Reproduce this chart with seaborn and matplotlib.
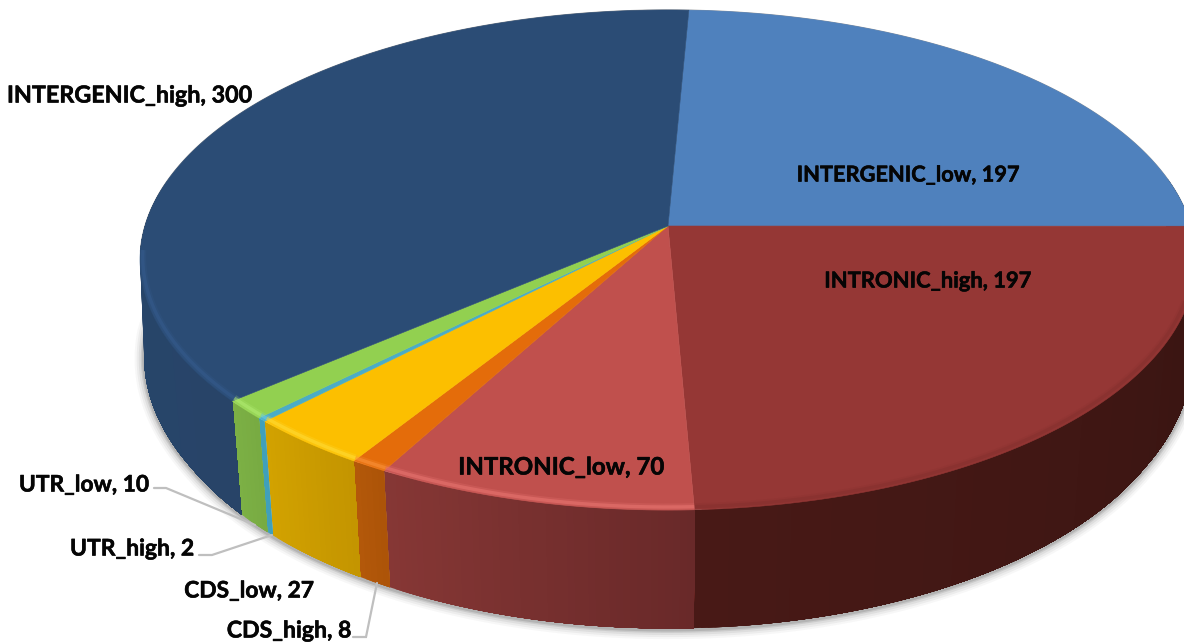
import numpy as np
import matplotlib
matplotlib.use("Agg")
import matplotlib.pyplot as plt
import matplotlib.patheffects as pe
import seaborn as sns

categories = ["INTERGENIC_low", "INTRONIC_high", "INTRONIC_low", "CDS_high",
              "CDS_low", "UTR_high", "UTR_low", "INTERGENIC_high"]
values = [197, 197, 70, 8, 27, 2, 10, 300]

top_colors = ["#4F81BD", "#953735", "#C0504D", "#E46C0A",
              "#FCBF00", "#4BACC6", "#92D050", "#2B4C75"]
rim_colors = ["#4F81BD", "#7A2A28", "#F07C78", "#FF9A45",
              "#FFE040", "#6FD0E8", "#B5F078", "#3A659A"]
rim_strength = [0.0, 0.6, 1.0, 1.0, 1.0, 1.0, 1.0, 0.7]
side_left = ["#2F4D72", "#481916", "#863735", "#B3580A",
             "#D2A200", "#40A0BA", "#7CB045", "#26466B"]
side_right = ["#2F4D72", "#371411", "#692929", "#AD5408",
              "#C49500", "#40A0BA", "#78AB42", "#284468"]

label_pos = [(908, 175), (928, 281), (561, 467), (289, 631),
             (249, 591), (132, 549), (84, 485), (130, 96)]
label_size = [15.7, 15.8, 17.3, 16.6, 16.4, 16.5, 16.4, 16.8]

leaders = {"UTR_low": ([154, 166, 255], [488, 488, 525]),
           "UTR_high": ([199, 212, 272], [555, 555, 535]),
           "CDS_high": ([353, 366, 377], [637, 637, 583])}

WIDTH, HEIGHT = 1184, 643
TILT = 0.136


def top_face(theta):
    u, v = np.cos(np.radians(theta)), np.sin(np.radians(theta))
    w = 1 + TILT * v
    return 668 + 523 * u / w, 226 - 245.4 * v / w


def base_face(theta):
    # The base narrows towards the viewer, so the wall edges lean inward.
    u, v = np.cos(np.radians(theta)), np.sin(np.radians(theta))
    w = 1 + TILT * v
    half_width = 521 - 9 * np.clip(-v / 0.5, 0, 1)
    return 668 + half_width * u / w, 331 - 257 * v / w


sns.set_theme(style="white")
plt.rcParams["font.family"] = ["Lato", "DejaVu Sans"]

fig = plt.figure(figsize=(WIDTH / 100, HEIGHT / 100), dpi=100, facecolor="white")
ax = fig.add_axes([0, 0, 1, 1])

# The pie supplies each slice's angular extent; the slices are then redrawn
# under a tilted projection with a visible side wall.
wedges, _ = ax.pie(values, startangle=87.4, counterclock=False)
spans = [(w.theta1, w.theta2) for w in wedges]
for w in wedges:
    w.remove()
ax.set_aspect("auto")
ax.set_xlim(0, WIDTH)
ax.set_ylim(HEIGHT, 0)
ax.axis("off")

# Soft drop shadow around the base
ring = np.linspace(-195, 15, 300)
bx, by = base_face(ring)
for lw, alpha in zip([14, 11, 8, 5, 3], [0.04, 0.06, 0.08, 0.12, 0.16]):
    ax.plot(bx, by + 1, color="#404040", lw=lw, alpha=alpha, zorder=1,
            solid_capstyle="round")

# Side wall: each step repaints from its angle to the slice end, which keeps
# the gradient free of seams.
for (t1, t2), cl, cr in zip(spans, side_left, side_right):
    th = np.linspace(t1, t2, max(int((t2 - t1) * 1.5), 2) + 1)
    th = th[np.sin(np.radians(th)) < 0.2]
    if len(th) < 2:
        continue
    shades = sns.blend_palette([cl, cr], len(th) - 1)
    for i in range(len(th) - 1):
        tx, ty = top_face(th[i:])
        bx, by = base_face(th[i:])
        ax.fill(np.r_[tx, bx[::-1]], np.r_[ty, by[::-1]],
                color=shades[i], lw=0, zorder=2)

# Thin grey line along the back edge
th = np.linspace(-5, 185, 400)
x, y = top_face(th)
ax.plot(x, y, color="#707070", lw=0.9, alpha=0.7, zorder=2.5)

# Top face
for (t1, t2), col in zip(spans, top_colors):
    th = np.linspace(t1, t2, 240)
    x, y = top_face(th)
    ax.fill(np.r_[668, x], np.r_[226, y], color=col, lw=0.4, zorder=3)

# Bevel along the front rim
for (t1, t2), col, strength in zip(spans, rim_colors, rim_strength):
    th = np.linspace(t1, t2, 160)
    th = th[np.sin(np.radians(th)) < -0.1]
    if len(th) < 2 or strength == 0:
        continue
    x, y = top_face(th)
    x = 668 + (x - 668) * 0.995
    y = y - 3
    ax.plot(x, y, color=col, lw=5, alpha=0.2 * strength, zorder=4,
            solid_capstyle="butt")
    ax.plot(x, y, color=col, lw=2.4, alpha=0.45 * strength, zorder=4,
            solid_capstyle="butt")

# Leader lines for the narrow slices
for xs, ys in leaders.values():
    ax.plot(xs, ys, color="#BFBFBF", lw=1.6, zorder=5, solid_joinstyle="miter")

# Data labels
for name, val, (lx, ly), size in zip(categories, values, label_pos, label_size):
    ax.text(lx, ly, f"{name}, {val}", ha="center", va="center",
            fontsize=size, fontweight="bold", color="#050505", zorder=6,
            path_effects=[pe.withStroke(linewidth=0.4, foreground="#050505")])

fig.savefig("out.png", dpi=100, facecolor="white")
